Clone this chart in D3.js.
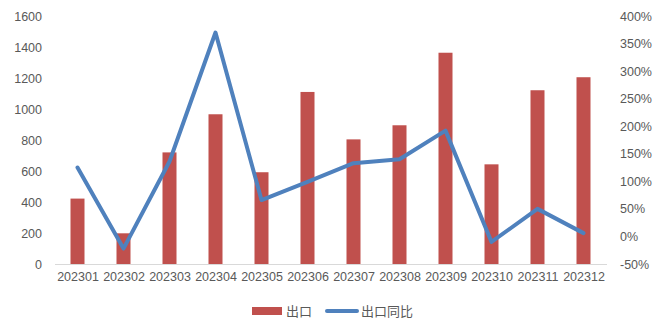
<!DOCTYPE html>
<html>
<head>
<meta charset="utf-8">
<script src="https://cdn.jsdelivr.net/npm/d3@7"></script>
<style>
  html, body { margin: 0; padding: 0; background: #fff; }
  svg { display: block; font-family: "Liberation Sans", "Noto Sans CJK SC", sans-serif; }
</style>
</head>
<body>
<svg id="chart" width="667" height="323"></svg>
<script>
// Monthly exports (bars, left axis) and year-on-year growth (line, right axis)
const months = ["202301","202302","202303","202304","202305","202306","202307","202308","202309","202310","202311","202312"];
const exportValues = [422, 198, 720, 966, 592, 1110, 804, 895, 1363, 643, 1121, 1205];
const yoyGrowth = [125, -22, 136, 370, 66, 99, 133, 140, 192, -10, 50, 6];
const leftTicks = [0, 200, 400, 600, 800, 1000, 1200, 1400, 1600];
const rightTicks = [-50, 0, 50, 100, 150, 200, 250, 300, 350, 400];
const seriesNames = ["出口", "出口同比"];

const svg = d3.select("#chart");
const margin = { left: 55, right: 60, top: 16, bottom: 59 };
const W = 667, H = 323;
const x0 = margin.left, x1 = W - margin.right;
const yTop = margin.top, yBottom = H - margin.bottom;

const textColor = "#595959";
const barColor = "#C0504D";
const lineColor = "#4F81BD";

const xc = d3.scaleBand().domain(months).range([x0, x1]);
const yL = d3.scaleLinear().domain([0, 1600]).range([yBottom, yTop]);
const yR = d3.scaleLinear().domain([-50, 400]).range([yBottom, yTop]);
const cx = (m) => xc(m) + xc.bandwidth() / 2 - 0.5;

// Bars
svg.append("g").selectAll("rect").data(months).join("rect")
  .attr("x", (d) => cx(d) - 7)
  .attr("width", 14)
  .attr("y", (d, i) => yL(exportValues[i]))
  .attr("height", (d, i) => yBottom - yL(exportValues[i]))
  .attr("fill", barColor);

// Category axis line
svg.append("line")
  .attr("x1", x0).attr("x2", x1)
  .attr("y1", yBottom + 0.5).attr("y2", yBottom + 0.5)
  .attr("stroke", "#d9d9d9").attr("stroke-width", 1);

// Growth line
const line = d3.line()
  .x((d, i) => cx(months[i]))
  .y((d) => yR(d));
svg.append("path")
  .datum(yoyGrowth)
  .attr("d", line)
  .attr("fill", "none")
  .attr("stroke", lineColor)
  .attr("stroke-width", 4)
  .attr("stroke-linejoin", "round")
  .attr("stroke-linecap", "round");

const styleTicks = (g) => {
  g.select(".domain").remove();
  g.selectAll("text").attr("fill", textColor)
    .style("font-size", "12.5px").style("font-family", "Liberation Sans");
};

// Left axis labels
const leftAxis = d3.axisLeft(yL).tickValues(leftTicks).tickSize(0).tickPadding(13)
  .tickFormat(d3.format("d"));
svg.append("g").attr("transform", `translate(${x0},0)`).call(leftAxis).call(styleTicks);

// Right axis labels
const rightAxis = d3.axisRight(yR).tickValues(rightTicks).tickSize(0).tickPadding(12)
  .tickFormat((d) => d + "%");
svg.append("g").attr("transform", `translate(${x1 + 1},0)`).call(rightAxis).call(styleTicks);

// Bottom labels
const bottomAxis = d3.axisBottom(xc).tickSize(0).tickPadding(8);
svg.append("g").attr("transform", `translate(0,${yBottom})`).call(bottomAxis).call(styleTicks);

// Legend
const leg = svg.append("g").attr("transform", "translate(0,311)");
leg.append("rect").attr("x", 252).attr("y", -4).attr("width", 30).attr("height", 8).attr("fill", barColor);
leg.append("text").attr("x", 286).attr("y", 0).attr("dy", "0.35em")
  .attr("fill", textColor).style("font-size", "13px").text(seriesNames[0]);
leg.append("line").attr("x1", 327).attr("x2", 357).attr("y1", 0).attr("y2", 0)
  .attr("stroke", lineColor).attr("stroke-width", 4).attr("stroke-linecap", "round");
leg.append("text").attr("x", 361).attr("y", 0).attr("dy", "0.35em")
  .attr("fill", textColor).style("font-size", "13px").text(seriesNames[1]);
</script>
</body>
</html>
